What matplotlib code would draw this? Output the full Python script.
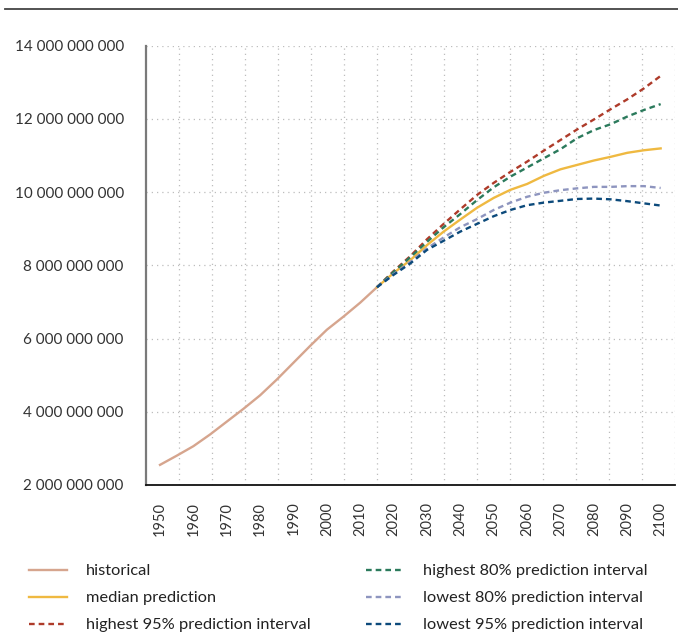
import numpy as np
import matplotlib
matplotlib.use("Agg")
import matplotlib.pyplot as plt
from matplotlib.lines import Line2D
from matplotlib.ticker import FuncFormatter, FixedLocator

plt.rcParams['font.family'] = ['Lato', 'DejaVu Sans']

# World population, historical estimates (5-year steps)
hist_years = [1950, 1955, 1960, 1965, 1970, 1975, 1980, 1985, 1990, 1995,
              2000, 2005, 2010, 2015]
hist_pop = [2.55e9, 2.80e9, 3.06e9, 3.38e9, 3.73e9, 4.08e9, 4.45e9, 4.88e9,
            5.34e9, 5.80e9, 6.24e9, 6.60e9, 6.98e9, 7.40e9]

# Projections with prediction intervals
proj_years = [2015, 2020, 2025, 2030, 2035, 2040, 2045, 2050, 2055, 2060,
              2065, 2070, 2075, 2080, 2085, 2090, 2095, 2100]
median = [7.40e9, 7.79e9, 8.14e9, 8.55e9, 8.92e9, 9.25e9, 9.57e9, 9.84e9,
          10.06e9, 10.22e9, 10.44e9, 10.62e9, 10.74e9, 10.86e9, 10.96e9,
          11.07e9, 11.14e9, 11.19e9]
high95 = [7.40e9, 7.84e9, 8.25e9, 8.71e9, 9.13e9, 9.53e9, 9.92e9, 10.25e9,
          10.55e9, 10.83e9, 11.13e9, 11.42e9, 11.71e9, 11.98e9, 12.26e9,
          12.53e9, 12.83e9, 13.17e9]
high80 = [7.40e9, 7.82e9, 8.22e9, 8.64e9, 9.04e9, 9.40e9, 9.78e9, 10.13e9,
          10.42e9, 10.67e9, 10.92e9, 11.17e9, 11.47e9, 11.69e9, 11.85e9,
          12.06e9, 12.24e9, 12.40e9]
low80 = [7.40e9, 7.76e9, 8.09e9, 8.46e9, 8.76e9, 9.04e9, 9.26e9, 9.51e9,
         9.71e9, 9.87e9, 9.98e9, 10.05e9, 10.10e9, 10.14e9, 10.14e9,
         10.16e9, 10.16e9, 10.11e9]
low95 = [7.40e9, 7.74e9, 8.05e9, 8.42e9, 8.67e9, 8.92e9, 9.13e9, 9.34e9,
         9.51e9, 9.64e9, 9.71e9, 9.76e9, 9.81e9, 9.82e9, 9.80e9, 9.75e9,
         9.69e9, 9.63e9]

x_ticks = list(range(1950, 2101, 10))
y_ticks = [2e9, 4e9, 6e9, 8e9, 10e9, 12e9, 14e9]

labels = ["historical", "median prediction", "highest 95% prediction interval",
          "highest 80% prediction interval", "lowest 80% prediction interval",
          "lowest 95% prediction interval"]
colors = ["#d6a58e", "#efb941", "#ae3b2a", "#2b7a5c", "#8e95bf", "#0c4a7b"]

fig = plt.figure(figsize=(6.78, 6.35), dpi=100)
ax = fig.add_axes([146 / 678, 150 / 635, (675 - 146) / 678, (485 - 45.5) / 635])

dash = (0, (2.4, 1.7))
lw = 1.7
h_hist, = ax.plot(hist_years, hist_pop, color=colors[0], lw=lw)
h_med, = ax.plot(proj_years, median, color=colors[1], lw=lw)
h_h95, = ax.plot(proj_years, high95, color=colors[2], lw=lw, ls=dash)
h_h80, = ax.plot(proj_years, high80, color=colors[3], lw=lw, ls=dash)
h_l80, = ax.plot(proj_years, low80, color=colors[4], lw=lw, ls=dash)
h_l95, = ax.plot(proj_years, low95, color=colors[5], lw=lw, ls=dash)

x0, x1 = 1945.8, 2104.3
ax.set_xlim(x0, x1)
ax.set_ylim(2e9, 14e9)

ax.set_xticks(x_ticks)
ax.set_xticklabels([str(y) for y in x_ticks], rotation=90, fontsize=10.5,
                   color="#333333")
ax.xaxis.set_minor_locator(FixedLocator(np.linspace(x0, x1, 17)[1:]))
ax.set_yticks(y_ticks)
ax.yaxis.set_major_formatter(FuncFormatter(
    lambda v, p: f"{int(round(v)):,}".replace(",", " ")))
for t in ax.get_yticklabels():
    t.set_fontsize(11)
    t.set_color("#333333")

ax.tick_params(axis="both", which="both", length=0)
ax.tick_params(axis="y", pad=16)
ax.tick_params(axis="x", pad=12)

grid_kw = dict(color="#bdbdbd", lw=0.9, ls=(0, (1, 3.2)))
ax.grid(True, axis="y", which="major", **grid_kw)
ax.grid(True, axis="x", which="minor", **grid_kw)
ax.grid(False, axis="x", which="major")

for side in ("top", "right"):
    ax.spines[side].set_visible(False)
ax.spines["left"].set_color("#7a7a7a")
ax.spines["left"].set_linewidth(1.6)
ax.spines["bottom"].set_color("#111111")
ax.spines["bottom"].set_linewidth(1.3)

fig.add_artist(Line2D([5 / 678, 1.0], [1 - 9 / 635, 1 - 9 / 635],
                      color="#444444", lw=1.3, transform=fig.transFigure))

leg_kw = dict(loc="upper left", frameon=False, fontsize=11.8, handlelength=2.3,
              handletextpad=1.15, labelspacing=0.76, borderpad=0,
              borderaxespad=0)
handles = [h_hist, h_med, h_h95, h_h80, h_l80, h_l95]
leg1 = fig.legend(handles[:3], labels[:3],
                  bbox_to_anchor=(29 / 678, 1 - 564 / 635), **leg_kw)
leg2 = fig.legend(handles[3:], labels[3:],
                  bbox_to_anchor=(366 / 678, 1 - 564 / 635), **leg_kw)
for leg in (leg1, leg2):
    for t in leg.get_texts():
        t.set_color("#222222")

fig.savefig("out.png", dpi=100)
